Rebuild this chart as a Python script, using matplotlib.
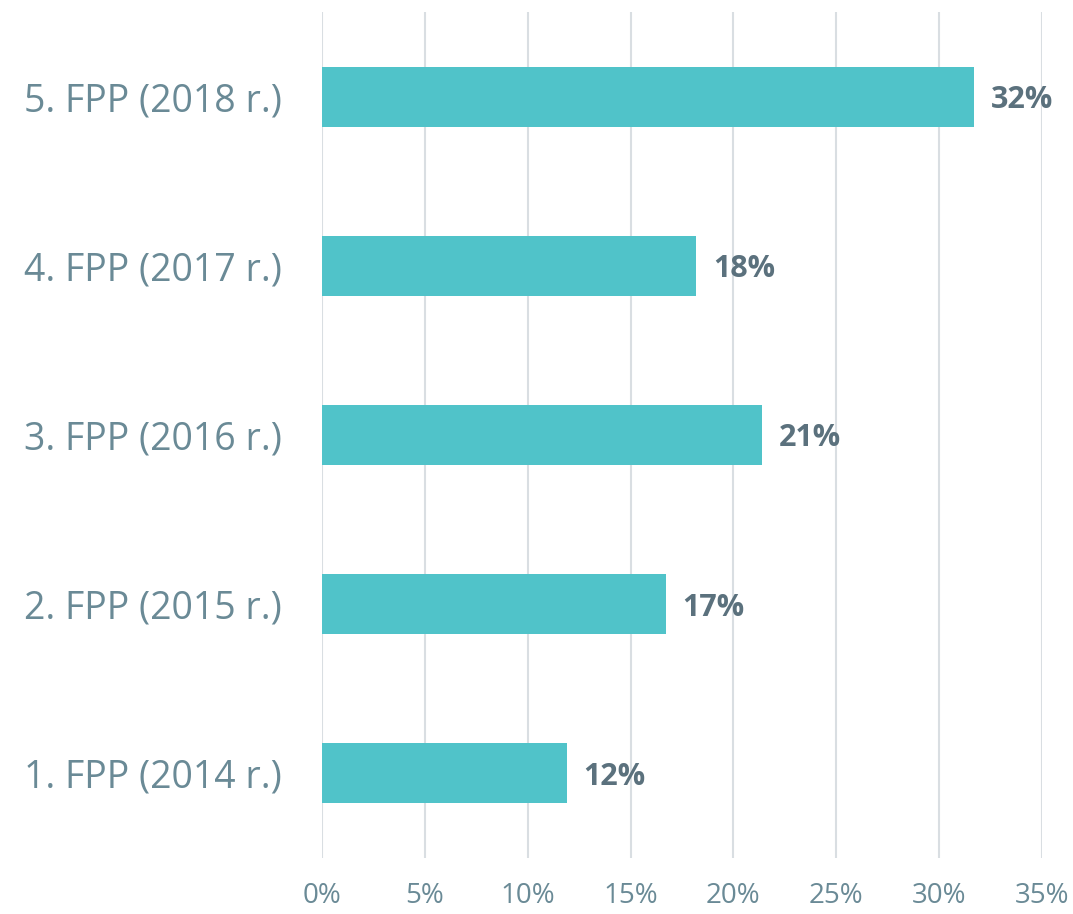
import matplotlib
matplotlib.use("Agg")
import matplotlib.pyplot as plt
from matplotlib.ticker import FuncFormatter

categories = ["1. FPP (2014 r.)", "2. FPP (2015 r.)", "3. FPP (2016 r.)", "4. FPP (2017 r.)", "5. FPP (2018 r.)"]
values = [11.9, 16.7, 21.4, 18.2, 31.7]
value_labels = ["12%", "17%", "21%", "18%", "32%"]
xticks = [0, 5, 10, 15, 20, 25, 30, 35]

plt.rcParams['font.family'] = ['Open Sans', 'DejaVu Sans']

fig = plt.figure(figsize=(10.73, 9.14), dpi=100)
ax = fig.add_axes([322/1073, 1-858/914, (1042-322)/1073, 846/914])

ypos = list(range(len(categories)))
ax.barh(ypos, values, height=0.355, color="#50C3C9", zorder=3)
for y, v, lab in zip(ypos, values, value_labels):
    ax.text(v + 0.8, y - 0.02, lab, va="center", ha="left", fontsize=22, fontweight="bold", color="#5B717D", zorder=4)

ax.set_xlim(0, 35)
ax.set_ylim(-0.5, 4.5)
ax.set_xticks(xticks)
ax.xaxis.set_major_formatter(FuncFormatter(lambda x, p: f"{int(x)}%"))
ax.set_yticks(ypos)
ax.set_yticklabels(categories)
ax.tick_params(axis="y", length=0, pad=29, labelsize=27, labelcolor="#6A8A96")
ax.tick_params(axis="x", length=0, pad=17, labelsize=20, labelcolor="#6A8A96")
ax.grid(axis="x", color="#D9DEE2", linewidth=1.5, zorder=0)
for s in ax.spines.values():
    s.set_visible(False)

fig.savefig("out.png", dpi=100, facecolor="white")
